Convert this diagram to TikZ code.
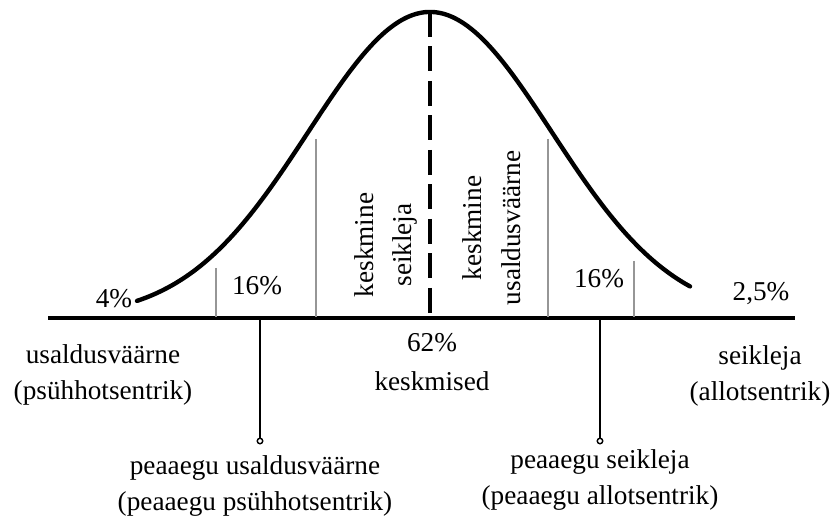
\documentclass[tikz,border=0pt]{standalone}
\usepackage{fontspec}
\setmainfont{Liberation Serif}
\usetikzlibrary{arrows.meta,calc,positioning}
\definecolor{DivGray}{RGB}{150,150,150}

\begin{document}
\begin{tikzpicture}[x=0.02cm,y=-0.02cm,
    lbl/.style={font=\fontsize{15.5}{20}\selectfont,inner sep=0pt,align=center},
    uplbl/.style={lbl,rotate=90,font=\fontsize{15.5}{22}\selectfont},
    divider/.style={DivGray,line width=0.9pt},
    pin/.style={line width=1.1pt},
    pinend/.style={circle,draw,line width=0.8pt,fill=white,inner sep=0pt,minimum size=0.11cm}]
  \useasboundingbox (0,0) rectangle (835,519);
  % axis and bell curve
  \draw[line width=2pt] (48,318)--(795,318);
  \draw[line width=2.5pt,line cap=round,domain=137:690,samples=120,smooth]
    plot (\x,{318-306*exp(-0.5*((\x-430)/122)^2)});
  \coordinate (peak) at (430,12);
  \coordinate (mid) at (430,318);
  \draw[line width=2.1pt,dash pattern=on 0.5cm off 0.19cm] (peak)--(mid);
  % dividers
  \draw[divider] (216,268)--(216,317);
  \draw[divider] (316,139)--(316,317);
  \draw[divider] (548,139)--(548,317);
  \draw[divider] (634,261)--(634,317);
  % shares
  \node[lbl] (tailL) at (114,299) {4\%};
  \node[lbl] (sideL) at (257,286) {16\%};
  \node[lbl] (sideR) at (599,279) {16\%};
  \node[lbl] (tailR) at (761,294) {2,5\%};
  \node[uplbl] (midL) at (386,245) {keskmine\\seikleja};
  \node[uplbl] (midR) at (492,228) {keskmine\\usaldusväärne};
  \node[lbl] (share) at (432,343) {62\%};
  \node[lbl] (avg) at (432,381) {keskmised};
  \node[lbl] (psych) at (103,375) {usaldusväärne\\(psühhotsentrik)};
  \node[lbl] (allo) at (760,376) {seikleja\\(allotsentrik)};
  % pins below the axis
  \coordinate (footL) at (260,318);
  \coordinate (footR) at (600,318);
  \node[pinend] (endL) at (260,441) {};
  \node[pinend] (endR) at (600,441) {};
  \draw[pin] (footL)--(endL);
  \draw[pin] (footR)--(endR);
  \node[lbl] (nearpsych) at (255,486) {peaaegu usaldusväärne\\(peaaegu psühhotsentrik)};
  \node[lbl] (nearallo) at (600,480) {peaaegu seikleja\\(peaaegu allotsentrik)};
\end{tikzpicture}
\end{document}
